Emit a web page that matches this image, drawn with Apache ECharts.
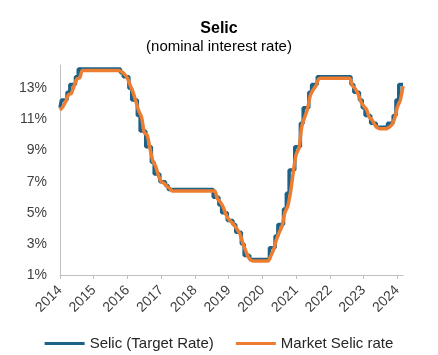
<!DOCTYPE html>
<html>
<head>
<meta charset="utf-8">
<script src="https://cdn.jsdelivr.net/npm/echarts@6/dist/echarts.min.js"></script>
<style>
html,body{margin:0;padding:0;background:#fff;}
#c{width:438px;height:355px;}
</style>
</head>
<body>
<div id="c"></div>
<script>
// Monthly categories as labelled on the chart (label year shown every 12 months)
const years = ['2014','2015','2016','2017','2018','2019','2020','2021','2022','2023','2024'];
const months = [];
for (let i = 0; i < 123; i++) {
  const y = 2014 + Math.floor(i / 12);
  const m = (i % 12) + 1;
  months.push(y + '-' + (m < 10 ? '0' + m : m));
}

// Selic target rate (%), monthly
const selicTarget = [
  11.75,
  12.25,12.25,12.75,13.25,13.25,13.75,14.25,14.25,14.25,14.25,14.25,14.25,
  14.25,14.25,14.25,14.25,14.25,14.25,14.25,14.25,14.25,14.00,13.75,13.75,
  13.00,12.25,12.25,11.25,10.25,10.25,9.25,9.25,8.25,7.50,7.50,7.00,
  7.00,6.75,6.50,6.50,6.50,6.50,6.50,6.50,6.50,6.50,6.50,6.50,
  6.50,6.50,6.50,6.50,6.50,6.50,6.00,6.00,5.50,5.00,5.00,4.50,
  4.50,4.25,3.75,3.75,3.00,2.25,2.25,2.00,2.00,2.00,2.00,2.00,
  2.00,2.00,2.75,2.75,3.50,4.25,4.25,5.25,6.25,7.75,7.75,9.25,
  9.25,10.75,11.75,11.75,12.75,13.25,13.25,13.75,13.75,13.75,13.75,13.75,
  13.75,13.75,13.75,13.75,13.75,13.75,13.75,13.25,12.75,12.75,12.25,11.75,
  11.25,11.25,10.75,10.75,10.50,10.50,10.50,10.50,10.75,10.75,11.25,12.25,
  13.25,13.25
];

// Market Selic rate (%), monthly
const selicMarket = [
  11.60,
  11.81,12.15,12.59,12.67,13.15,13.60,13.68,14.15,14.15,14.15,14.15,14.15,
  14.15,14.15,14.15,14.15,14.15,14.15,14.15,14.15,14.15,14.05,13.90,13.65,
  13.17,12.74,12.15,11.55,11.15,10.15,9.99,9.15,8.35,8.00,7.40,7.00,
  6.90,6.71,6.57,6.40,6.40,6.40,6.40,6.40,6.40,6.40,6.40,6.40,
  6.40,6.40,6.40,6.40,6.40,6.40,6.40,5.90,5.70,5.38,4.90,4.58,
  4.40,4.19,3.94,3.65,3.05,2.58,2.15,1.94,1.90,1.90,1.90,1.90,
  1.90,1.90,2.24,2.65,3.28,3.75,4.15,5.02,5.42,6.34,7.65,8.76,
  9.15,10.54,11.13,11.65,12.52,12.90,13.15,13.60,13.65,13.65,13.65,13.65,
  13.65,13.65,13.65,13.65,13.65,13.65,13.65,13.18,12.98,12.65,12.15,11.86,
  11.65,11.15,10.97,10.65,10.46,10.40,10.40,10.40,10.50,10.65,11.05,11.80,
  12.21,13.15
];

const seriesNames = ['Selic (Target Rate)', 'Market Selic rate'];
const colors = ['#1D6286', '#ED7D31'];

const chart = echarts.init(document.getElementById('c'), null, {renderer: 'canvas'});
chart.setOption({
  animation: false,
  backgroundColor: '#ffffff',
  title: {
    text: 'Selic',
    subtext: '(nominal interest rate)',
    left: 'center',
    top: 16,
    itemGap: 2,
    textStyle: {fontFamily: 'Liberation Sans', fontSize: 16, fontWeight: 'bold', color: '#000'},
    subtextStyle: {fontFamily: 'Liberation Sans', fontSize: 15, color: '#000'}
  },
  legend: {
    data: seriesNames.map(n => ({name: n, icon: 'rect'})),
    top: 331,
    left: 'center',
    itemWidth: 40,
    itemHeight: 3,
    itemGap: 22,
    textStyle: {fontFamily: 'Liberation Sans', fontSize: 15, color: '#262626'}
  },
  grid: {left: 60, right: 35, top: 65, bottom: 80},
  xAxis: {
    type: 'category',
    data: months,
    boundaryGap: false,
    axisLine: {lineStyle: {color: '#BFBFBF', width: 1}},
    axisTick: {show: true, interval: 11, length: 4, lineStyle: {color: '#BFBFBF'}},
    axisLabel: {
      interval: 11,
      rotate: 45,
      margin: 13,
      fontFamily: 'Liberation Sans',
      fontSize: 14,
      color: '#404040',
      formatter: (v, i) => years[Math.round(i / 12)]
    },
    splitLine: {show: false}
  },
  yAxis: {
    type: 'value',
    min: 1,
    max: 14.5,
    interval: 2,
    axisLine: {show: true, lineStyle: {color: '#BFBFBF', width: 1}},
    axisTick: {show: false},
    splitLine: {show: false},
    axisLabel: {
      fontFamily: 'Liberation Sans',
      fontSize: 14,
      color: '#404040',
      margin: 13,
      formatter: v => ((v - 1) % 2 === 0 ? v + '%' : '')
    }
  },
  series: [
    {
      name: seriesNames[0],
      type: 'line',
      data: selicTarget,
      step: 'middle',
      showSymbol: false,
      lineStyle: {color: colors[0], width: 3.5},
      itemStyle: {color: colors[0]},
      z: 2
    },
    {
      name: seriesNames[1],
      type: 'line',
      data: selicMarket,
      smooth: 0.3,
      showSymbol: false,
      lineStyle: {color: colors[1], width: 3.5},
      itemStyle: {color: colors[1]},
      z: 3
    }
  ]
});
</script>
</body>
</html>
